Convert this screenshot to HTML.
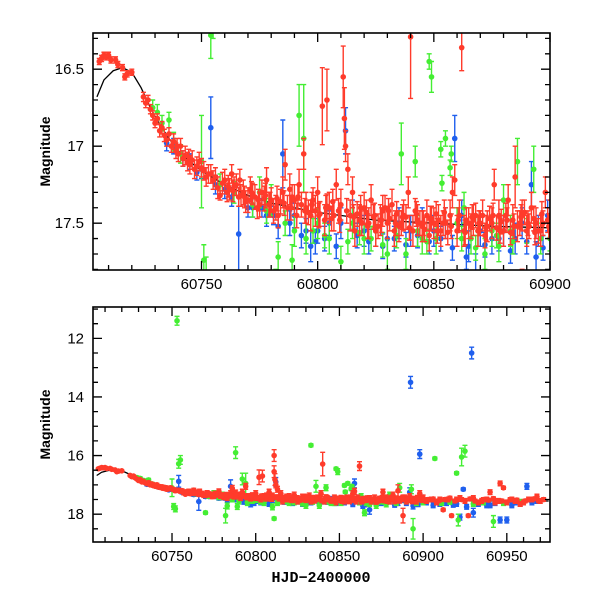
<!DOCTYPE html>
<html><head><meta charset="utf-8"><style>
body{margin:0;background:#fff;}
svg{display:block;font-family:"Liberation Sans",sans-serif;}
</style></head><body>
<svg id="c" width="600" height="600" viewBox="0 0 600 600">
<defs>
<clipPath id="clipTop"><rect x="93" y="33" width="457" height="237"/></clipPath>
<clipPath id="clipBot"><rect x="93" y="307" width="457" height="235"/></clipPath>
</defs>
</svg>
<script>
// ---- data ----
const curveT=[60705,60708,60712,60716,60720,60724,60728,60732,60736,60740,60745,60750,60760,60770,60780,60800,60825,60850,60875,60900,60925,60950,60975];
const curveM=[16.68,16.57,16.51,16.49,16.52,16.62,16.75,16.86,16.95,17.03,17.1,17.16,17.25,17.32,17.37,17.43,17.48,17.5,17.52,17.53,17.54,17.55,17.55];

const redT=[60706,60707,60708,60709,60710,60711,60713,60714,60716,60717,60718,60720,60725,60726,60727,60728,60729,60730,60731,60732,60734,60735,60736,60737,60738,60739,60740,60741,60742,60743,60744,60745,60746,60747,60748,60750,60752,60753,60755,60757,60758,60760,60762,60763,60765,60767,60768,60770,60771,60773,60775,60776,60778,60780,60782,60783,60785,60786,60788,60790,60792,60794,60795,60797,60799,60800,60802,60803,60805,60807,60808,60810,60811,60811.5,60812,60813,60814,60815,60816,60818,60820,60822,60823,60825,60827,60828,60830,60832,60833,60835,60837,60839,60840,60841,60843,60845,60847,60848,60850,60852,60853,60855,60857,60858,60859,60860,60861,60862,60863,60865,60867,60869,60871,60873,60875,60876,60878,60880,60882,60884,60885,60886,60888,60890,60892,60894,60896,60898,60900,
60761,60764,60766,60769,60772,60774,60777,60779,60781,60784,60787,60789,60791,60793,60796,60798,60801,60804,60806,60809,60817,60819,60821,60824,60826,60829,60831,60834,60836,60838,60842,60844,60846,60849,60851,60854,60856,60864,60866,60868,60870,60872,60874,60877,60879,60881,60883,60887,60889,60891,60893,60895,60897,60899,
60804,60811,60888,60902,60905,60908,60910,60912,60915,60917,60920,60922,60925,60927,60930,60933,60935,60938,60940,60943,60945,60946,60948,60950,60953,60955,60958,60960,60963,60965,60968,60970,
60733,60739.5,60744.5,60749,60751,60754,60756,60759,60761.5,60763.5,60766.5,60768.5,60771.5,60774.5,60777.5,60779.5,60782.5,60785.5,60788.5,60791.5,60794.5,60797.5,60800.5,60803.5,60806.5,60809.5,60812.5,60815.5,60818.5,60821.5,60824.5,60827.5,60830.5,60833.5,60836.5,60839.5,60842.5,60845.5,60848.5,60851.5,60854.5,60857.5,60860.5,60863.5,60866.5,60869.5,60872.5,60875.5,60878.5,60881.5,60884.5,60887.5,60890.5,60893.5,60896.5,60899.5,60903,60906,60909,60913,60916,60919,60923,60928,60931,60936,60939,60942,60947,60952,60956,60961,60966,60969,60972];
const redM=[16.45,16.43,16.41,16.42,16.41,16.44,16.44,16.47,16.49,16.55,16.53,16.52,16.68,16.72,16.7,16.76,16.8,16.85,16.82,16.9,16.93,16.96,16.92,17.0,16.97,17.03,17.05,17.0,17.08,17.06,17.1,17.12,17.09,17.15,17.13,17.14,17.2,17.18,17.22,17.27,17.32,17.22,17.28,17.18,17.25,17.32,17.3,17.35,17.28,17.33,17.38,17.3,17.22,17.35,17.4,17.45,17.3,17.12,17.28,17.35,17.25,17.05,17.4,17.45,17.42,17.3,16.74,17.48,17.4,17.45,17.25,17.38,16.55,16.82,17.0,17.15,17.45,17.3,17.55,17.48,17.4,17.5,17.35,17.55,17.48,17.42,17.5,17.38,17.55,17.52,17.45,17.3,16.29,17.55,17.48,17.52,17.45,17.58,17.5,17.48,17.55,17.5,17.45,17.3,17.22,17.55,17.45,16.36,17.55,17.5,17.48,17.55,17.45,17.52,17.5,17.25,17.45,17.55,17.35,17.48,17.2,17.52,17.45,17.55,17.4,17.5,17.55,17.3,17.45,
17.3,17.26,17.33,17.36,17.31,17.4,17.34,17.38,17.42,17.36,17.4,17.33,17.45,17.38,17.43,17.35,17.44,17.39,17.47,17.42,17.44,17.5,17.43,17.46,17.52,17.4,17.47,17.44,17.5,17.46,17.42,17.5,17.54,17.47,17.44,17.5,17.56,17.48,17.52,17.45,17.5,17.58,17.47,17.53,17.49,17.45,17.56,17.5,17.43,17.52,17.47,17.55,17.5,17.48,
16.7,16.0,18.05,17.55,17.5,17.6,17.5,17.85,17.5,18.05,17.5,17.45,17.55,18.05,17.45,17.6,17.55,17.5,17.25,17.6,17.55,16.95,17.1,17.6,17.5,17.55,17.65,17.6,17.5,17.5,17.4,17.55,
16.88,17.0,17.07,17.1,17.16,17.18,17.2,17.24,17.26,17.29,17.22,17.33,17.3,17.35,17.32,17.38,17.34,17.37,17.4,17.33,17.42,17.38,17.45,17.4,17.36,17.48,17.42,17.46,17.4,17.52,17.45,17.48,17.42,17.5,17.46,17.53,17.44,17.5,17.47,17.55,17.43,17.52,17.48,17.56,17.46,17.5,17.53,17.45,17.55,17.48,17.52,17.46,17.5,17.56,17.44,17.52,17.5,17.48,17.55,17.5,17.45,17.55,17.5,17.48,17.55,17.5,17.52,17.47,17.55,17.5,17.52,17.55,17.48,17.55,17.5];
const redE=[.02,.02,.02,.02,.02,.02,.02,.02,.02,.02,.02,.02,.03,.03,.03,.03,.03,.03,.03,.04,.04,.04,.04,.04,.05,.05,.05,.05,.05,.06,.06,.06,.06,.06,.06,.06,.06,.06,.06,.07,.03,.07,.07,.06,.07,.07,.08,.08,.08,.08,.08,.08,.08,.08,.08,.08,.1,.1,.1,.1,.1,.1,.1,.1,.1,.1,.25,.1,.1,.1,.1,.1,.2,.2,.1,.1,.1,.1,.1,.1,.1,.1,.1,.1,.1,.1,.1,.1,.1,.1,.1,.1,.4,.1,.1,.1,.1,.1,.1,.1,.1,.1,.1,.1,.1,.1,.1,.15,.1,.1,.1,.1,.1,.1,.1,.1,.1,.1,.1,.1,.2,.1,.1,.1,.1,.1,.1,.1,.1,
.06,.06,.06,.07,.07,.07,.08,.08,.08,.08,.08,.08,.08,.08,.08,.08,.08,.08,.08,.08,.08,.08,.08,.08,.08,.08,.08,.08,.08,.08,.08,.08,.08,.08,.08,.08,.08,.08,.08,.08,.08,.08,.08,.08,.08,.08,.08,.08,.08,.08,.08,.08,.08,.08,
.2,.2,.25,.08,.08,.08,.08,.05,.08,.05,.08,.08,.08,.05,.08,.08,.08,.08,.08,.08,.08,.08,.05,.08,.08,.08,.08,.08,.08,.08,.08,.08,
.04,.05,.05,.06,.06,.06,.06,.07,.07,.07,.07,.07,.07,.07,.08,.08,.08,.08,.08,.08,.08,.08,.08,.08,.08,.08,.08,.08,.08,.08,.08,.08,.08,.08,.08,.08,.08,.08,.08,.08,.08,.08,.08,.08,.08,.08,.08,.08,.08,.08,.08,.08,.08,.08,.08,.08,.06,.06,.06,.06,.06,.06,.06,.06,.06,.06,.06,.06,.06,.06,.06,.06,.06,.06,.06];

const blueT=[60735,60738,60745,60750,60754,60760,60766,60772,60776,60781,60785,60790,60795,60797,60800,60805,60810,60812,60815,60820,60825,60830,60835,60840,60845,60850,60855,60859,60862,60865,60868,60870,60875,60880,60885,60888,60892,60895,60899,60892.5,60898,60902,60910,60920,60922,60924,60929,60930,60935,60940,60946,60950,60955,60962,60968,
60742,60748,60756,60763,60770,60778,60783,60788,60793,60799,60803,60808,60817,60822,60828,60833,60838,60843,60848,60853,60858,60864,60872,60878,60883,60890,60894,60897,60906,60914,60918,60926,60933,60938,60943,60953,60958,60965];
const blueM=[16.98,17.0,17.1,17.15,16.88,17.28,17.57,17.4,17.4,17.45,17.05,17.45,17.55,17.65,17.55,17.5,17.5,16.9,17.45,17.55,17.55,17.6,17.5,17.55,17.5,17.55,17.5,16.95,17.45,17.65,17.85,17.55,17.6,17.55,17.6,17.5,17.25,17.55,17.45,13.5,15.95,17.6,17.65,17.65,18.1,17.15,12.5,17.95,17.6,17.7,18.2,18.2,17.6,17.05,17.55,
17.08,17.17,17.25,17.33,17.4,17.45,17.52,17.5,17.58,17.62,17.6,17.65,17.58,17.62,17.65,17.6,17.64,17.58,17.62,17.6,17.66,17.72,17.64,17.6,17.68,17.62,17.72,17.66,17.7,17.62,17.68,17.75,17.65,17.7,17.62,17.7,17.65,17.6];
const blueE=[.05,.05,.05,.06,.2,.06,.3,.06,.06,.06,.22,.08,.08,.1,.08,.08,.1,.15,.1,.1,.1,.1,.1,.1,.1,.1,.1,.15,.1,.1,.15,.1,.1,.1,.1,.1,.15,.1,.1,.2,.15,.08,.08,.08,.1,.05,.2,.15,.08,.08,.1,.1,.08,.1,.08,
.05,.05,.06,.06,.06,.07,.08,.08,.08,.08,.08,.08,.08,.08,.08,.08,.08,.08,.08,.08,.08,.08,.08,.08,.08,.08,.1,.08,.08,.08,.08,.08,.08,.08,.08,.08,.08,.08];

const greenT=[60729,60731,60733,60736,60738,60750,60751,60752,60754,60775,60780,60783,60789,60790,60794,60795,60800,60805,60810,60815,60820,60825,60830,60836,60838,60843,60845,60849,60851,60853,60853.5,60857,60857.5,60860,60863,60866,60869,60872,60875,60878,60880,60883,60886,60893,60896,60753,60755,60770,60782,60788,60792,60811,60833,60842,60848,60855,60865,60894,60907,60920,60921,60923,60925,60942,
60741,60758,60764,60772,60778,60786,60798,60803,60813,60818,60823,60828,60834,60847,60862,60868,60877,60884,60890,60900,60911,60916,60930,60936,60948,60958];
const greenM=[16.75,16.78,16.85,16.83,16.97,17.1,17.74,17.82,16.28,17.3,17.35,17.72,17.74,17.55,16.95,17.6,17.5,17.6,17.75,17.5,17.6,17.55,17.7,17.05,17.7,17.55,17.6,16.55,17.6,17.02,17.24,17.14,17.05,17.5,17.4,17.6,17.55,17.7,17.55,17.65,17.35,17.55,17.1,17.15,17.6,11.4,16.15,17.95,18.05,15.9,16.8,18.15,15.65,17.1,16.45,16.95,17.95,18.5,16.1,16.6,18.2,16.05,15.85,18.25,
17.05,17.25,17.3,17.38,17.42,17.5,17.55,17.58,17.62,17.56,17.6,17.64,17.58,17.62,17.6,17.66,17.58,17.62,17.55,17.6,17.62,17.58,17.65,17.6,17.62,17.58];
const greenE=[.05,.05,.05,.05,.06,.3,.1,.1,.15,.1,.1,.1,.1,.1,.35,.1,.1,.1,.1,.1,.1,.1,.1,.2,.1,.1,.1,.1,.1,.05,.05,.05,.05,.1,.1,.1,.1,.1,.1,.1,.1,.1,.15,.15,.1,.15,.15,.05,.25,.2,.2,.05,.05,.1,.05,.05,.1,.35,.05,.05,.2,.3,.2,.2,
.06,.07,.07,.08,.08,.08,.08,.08,.08,.08,.08,.08,.08,.08,.08,.08,.08,.08,.08,.08,.08,.08,.08,.08,.08,.08];

const topXTicks=[60750,60800,60850,60900];
const topYTicks=[16.5,17,17.5];
const botXTicks=[60750,60800,60850,60900,60950];
const botYTicks=[12,14,16,18];

// ---- axes ----
const NS="http://www.w3.org/2000/svg";
const svg=document.getElementById('c');
const panels=[
 {name:'top',x0:93,x1:550,y0:33,y1:270,tMin:60703.3,tMax:60900,mTop:16.265,mBot:17.804,xT:topXTicks,yT:topYTicks,xMinor:10,yMinor:0.1,clip:'clipTop',yl:'Magnitude',xl:null},
 {name:'bottom',x0:93,x1:550,y0:307,y1:542,tMin:60702.8,tMax:60975.8,mTop:10.93,mBot:18.95,xT:botXTicks,yT:botYTicks,xMinor:10,yMinor:0.5,clip:'clipBot',yl:'Magnitude',xl:'HJD\u22122400000'}
];
function mk(tag,attrs,parent){const e=document.createElementNS(NS,tag);for(const k in attrs)e.setAttribute(k,attrs[k]);(parent||svg).appendChild(e);return e;}

panels.forEach(p=>{
 const sx=t=>p.x0+(t-p.tMin)/(p.tMax-p.tMin)*(p.x1-p.x0);
 const sy=m=>p.y0+(m-p.mTop)/(p.mBot-p.mTop)*(p.y1-p.y0);
 const g=mk('g',{});
 
 
 const plot=mk('g',{'clip-path':'url(#'+p.clip+')'},g);
 
 
 function series(T,M,E,color,nm){
  const sg=mk('g',{},plot);
  
  
  for(let i=0;i<T.length;i++){
   const x=sx(T[i]),y=sy(M[i]),ya=sy(M[i]-E[i]),yb=sy(M[i]+E[i]);
   const eb=mk('path',{d:`M${x},${ya}V${yb}M${x-2.5},${ya}H${x+2.5}M${x-2.5},${yb}H${x+2.5}`,stroke:color,'stroke-width':1.4,fill:'none'},sg);
   
   
   const c=mk('circle',{cx:x,cy:y,r:2.8,fill:color},sg);
   
   
  }
 }
 const cl=mk('path',{d:curveT.map((t,i)=>(i?'L':'M')+sx(t)+','+sy(curveM[i])).join(''),stroke:'#000',fill:'none','stroke-width':1.3},plot);
 
 
 series(blueT,blueM,blueE,'#1f5fee','blue');
 series(greenT,greenM,greenE,'#44ee33','green');
 series(redT,redM,redE,'#ff3b2b','red');
 const fr=mk('rect',{x:p.x0,y:p.y0,width:p.x1-p.x0,height:p.y1-p.y0,fill:'none',stroke:'#000','stroke-width':1.6},g);
 
 
 let d='';
 for(let t=Math.ceil(p.tMin/p.xMinor)*p.xMinor;t<=p.tMax;t+=p.xMinor){
  const x=sx(t);const L=(Math.round(t)%50===0)?9:5;
  d+=`M${x},${p.y1}v${-L}M${x},${p.y0}v${L}`;
 }
 for(let k=Math.ceil(p.mTop/p.yMinor-1e-6);k*p.yMinor<=p.mBot;k++){
  const m=k*p.yMinor;const y=sy(m);
  const maj=p.yT.some(v=>Math.abs(v-m)<1e-6);const L=maj?9:5;
  d+=`M${p.x0},${y}h${L}M${p.x1},${y}h${-L}`;
 }
 const tk=mk('path',{d:d,stroke:'#000','stroke-width':1.3,fill:'none'},g);
 
 
 p.xT.forEach(t=>{
  const tx=mk('text',{x:sx(t),y:p.y1+19,'text-anchor':'middle','font-size':15},g);
  tx.textContent=t;
  
  
 });
 p.yT.forEach(m=>{
  const tx=mk('text',{x:p.x0-9,y:sy(m)+5,'text-anchor':'end','font-size':15},g);
  tx.textContent=m;
  
  
 });
 const cy=(p.y0+p.y1)/2;
 const yl=mk('text',{x:0,y:0,transform:`translate(50,${cy}) rotate(-90)`,'text-anchor':'middle','font-size':14,'font-weight':'bold'},g);
 yl.textContent=p.yl;
 
 
 if(p.xl){
  const xl=mk('text',{x:321,y:582,'text-anchor':'middle','font-size':15,'font-family':'Liberation Mono, monospace','font-weight':'bold'},g);
  xl.textContent=p.xl;
  
  
 }
});
</script>
</body></html>
